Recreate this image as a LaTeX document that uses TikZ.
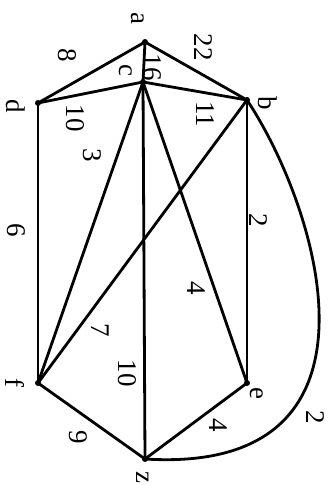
\documentclass[tikz,border=0pt]{standalone}
\usepackage{fontspec}
\setmainfont{Liberation Serif}
\begin{document}
\begin{tikzpicture}[x=1pt,y=-1pt,
  vtx/.style={circle,fill=black,inner sep=0pt,minimum size=6pt},
  edge/.style={line width=2.8pt,line cap=round},
  lbl/.style={rotate=-90,inner sep=0pt,font=\fontsize{27}{29}\selectfont}]
\useasboundingbox (0,0) rectangle (336,485);
\node[vtx] (a) at (145,42) {};
\node[vtx] (c) at (143,82) {};
\node[vtx] (d) at (38,103) {};
\node[vtx] (b) at (247,100) {};
\node[vtx] (e) at (247,383) {};
\node[vtx] (f) at (38,383) {};
\node[vtx] (z) at (145,459) {};
\draw[edge] (a.center) -- (d.center);
\draw[edge] (a.center) -- (b.center);
\draw[edge] (a.center) -- (c.center);
\draw[edge] (c.center) -- (d.center);
\draw[edge] (c.center) -- (b.center);
\draw[edge] (d.center) -- (f.center);
\draw[edge] (c.center) -- (f.center);
\draw[edge] (c.center) -- (z.center);
\draw[edge] (c.center) -- (e.center);
\draw[edge] (b.center) -- (f.center);
\draw[edge] (b.center) -- (e.center);
\draw[edge] (e.center) -- (z.center);
\draw[edge] (f.center) -- (z.center);
\draw[edge] (b.center) .. controls (320,210) and (400,475) .. (z.center);
% vertex labels
\node[lbl] (la) at (138,18) {a};
\node[lbl] (lc) at (126,70) {c};
\node[lbl] (ld) at (16,106) {d};
\node[lbl] (lb) at (268,103) {b};
\node[lbl] (lf) at (15,383) {f};
\node[lbl] (le) at (257,393) {e};
\node[lbl] (lz) at (143,477) {z};
% weights
\node[lbl] (w8) at (67,55) {8};
\node[lbl] (w22) at (203,47) {22};
\node[lbl] (w16) at (152,67) {16};
\node[lbl] (w10a) at (75,118) {10};
\node[lbl] (w11) at (205,114) {11};
\node[lbl] (w3) at (92,155) {3};
\node[lbl] (w6) at (16,230) {6};
\node[lbl] (w2a) at (258,220) {2};
\node[lbl] (w4a) at (196,288) {4};
\node[lbl] (w7) at (100,330) {7};
\node[lbl] (w10b) at (127,373) {10};
\node[lbl] (w9) at (78,437) {9};
\node[lbl] (w4b) at (218,425) {4};
\node[lbl] (w2b) at (315,417) {2};
\end{tikzpicture}
\end{document}
